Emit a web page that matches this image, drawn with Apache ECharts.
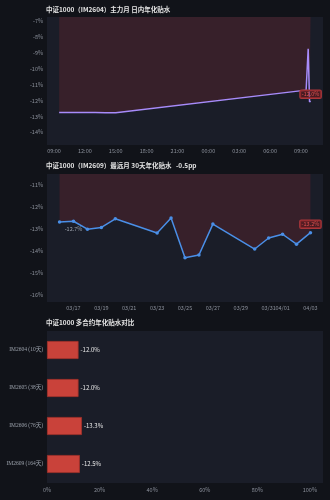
<!DOCTYPE html>
<html><head><meta charset="utf-8">
<script src="https://cdn.jsdelivr.net/npm/echarts@6/dist/echarts.min.js"></script>
<style>html,body{margin:0;padding:0;background:#111319;}#c{width:330px;height:500px;}</style>
</head><body><div id="c"></div>
<script>
// ---- data ----
const title1 = '中证1000（IM2604）主力月 日内年化贴水';
const title2 = '中证1000（IM2609）最远月 30天年化贴水   -0.5pp';
const title3 = '中证1000 多合约年化贴水对比';

const intradayTimes = ['04/02 09:30','04/02 10:30','04/02 11:30','04/02 13:00','04/02 14:00','04/02 15:00','04/03 09:30','04/03 09:36','04/03 09:42','04/03 09:50','04/03 09:56'];
const intradayBasis = [-12.75,-12.75,-12.75,-12.75,-12.76,-12.76,-11.34,-11.31,-8.73,-12.08,-12.02];

const dailyDates = ['03/16','03/17','03/18','03/19','03/20','03/23','03/24','03/25','03/26','03/27','03/30','03/31','04/01','04/02','04/03'];
const dailyBasis = [-12.68,-12.64,-13.0,-12.92,-12.53,-13.17,-12.49,-14.29,-14.17,-12.77,-13.9,-13.4,-13.23,-13.68,-13.16];
const dailyTickLabels = ['03/17','03/19','03/21','03/23','03/25','03/27','03/29','03/31','04/01','04/03'];

const contracts = ['IM2604 (10天)','IM2605 (38天)','IM2606 (76天)','IM2609 (164天)'];
const contractBasis = [-12.0,-12.0,-13.3,-12.5];
const pctTicks = [0,20,40,60,80,100];

// ---- helpers ----
function toHours(s){ // hours since 04/02 00:00
  const d = parseInt(s.slice(3,5),10) + (s.slice(0,2)==='04'?31:0);
  const h = parseInt(s.slice(6,8),10), m = parseInt(s.slice(9,11),10);
  return (d-33)*24 + h + m/60;
}
function toDay(s){ // days since 03/01
  const mo = parseInt(s.slice(0,2),10), d = parseInt(s.slice(3,5),10);
  return (mo===4?31:0) + d - 1;
}
function dayLabel(v){
  let n = Math.round(v)+1, mo = 3;
  if(n>31){n-=31;mo=4;}
  return (mo<10?'0':'')+mo+'/'+(n<10?'0':'')+n;
}
function hourLabel(v){
  let h = Math.round(v*60)/60; h = ((h%24)+24)%24;
  const hh = Math.floor(h), mm = Math.round((h-hh)*60);
  return (hh<10?'0':'')+hh+':'+(mm<10?'0':'')+mm;
}

const FONT = '"Noto Sans CJK SC","Noto Sans",sans-serif';
const axisTxt = {color:'#8b909b', fontSize:5.5, fontFamily:FONT};
const boxLabel = {show:true, position:'top', distance:3, color:'#e0514f', fontSize:5.5, fontFamily:FONT,
  backgroundColor:'rgba(110,25,30,0.55)', borderColor:'#a8363a', borderWidth:1, borderRadius:1, padding:[1,1.5]};

const s1 = intradayTimes.map((t,i)=>{
  const it = {value:[toHours(t), intradayBasis[i]]};
  if(i===intradayTimes.length-1) it.label = Object.assign({}, boxLabel, {formatter: p=>p.value[1].toFixed(1)+'%'});
  return it;
});
const s2 = dailyDates.map((t,i)=>{
  const it = {value:[toDay(t), dailyBasis[i]]};
  if(i===dailyDates.length-1) it.label = Object.assign({}, boxLabel, {formatter: p=>p.value[1].toFixed(1)+'%'});
  if(i===0) it.label = {show:true, position:'bottom', distance:3, offset:[14,-1], color:'#9aa0aa', fontSize:5.5, fontFamily:FONT, formatter: p=>p.value[1].toFixed(1)+'%'};
  return it;
});

const titleStyle = {color:'#e4e4e4', fontSize:6.5, fontWeight:'bold', fontFamily:FONT};
const gridBase = {left:47, right:7, show:true, backgroundColor:'#1a1d28', borderWidth:0};
const hidden = {axisLine:{show:false}, axisTick:{show:false}, splitLine:{show:false}};

const chart = echarts.init(document.getElementById('c'));
chart.setOption({
  animation:false,
  backgroundColor:'#111319',
  title:[
    {text:title1, left:46, top:6.5, padding:0, textStyle:titleStyle},
    {text:title2, left:46, top:162.5, padding:0, textStyle:titleStyle},
    {text:title3, left:46, top:319.5, padding:0, textStyle:titleStyle}
  ],
  grid:[
    Object.assign({top:17, height:128}, gridBase),
    Object.assign({top:174, height:128}, gridBase),
    Object.assign({top:331, height:152}, gridBase)
  ],
  xAxis:[
    Object.assign({type:'value', gridIndex:0, min:8.32, max:35.14, splitNumber:9,
      axisLabel:Object.assign({margin:3, showMinLabel:false, showMaxLabel:false, formatter:hourLabel}, axisTxt)}, hidden),
    Object.assign({type:'value', gridIndex:1, min:14.1, max:33.9,
      axisLabel:Object.assign({margin:3, customValues: dailyTickLabels.map(toDay), formatter:dayLabel}, axisTxt)}, hidden),
    Object.assign({type:'value', gridIndex:2, min:0, max:105,
      axisLabel:Object.assign({margin:4, customValues: pctTicks, formatter:v=>v+'%'}, axisTxt)}, hidden)
  ],
  yAxis:[
    Object.assign({type:'value', gridIndex:0, min:-14.8, max:-6.73, splitNumber:8,
      axisLabel:Object.assign({margin:4, showMinLabel:false, showMaxLabel:false, formatter:v=>v+'%'}, axisTxt)}, hidden),
    Object.assign({type:'value', gridIndex:1, min:-16.3, max:-10.5, splitNumber:6,
      axisLabel:Object.assign({margin:4, showMinLabel:false, showMaxLabel:false, formatter:v=>v+'%'}, axisTxt)}, hidden),
    Object.assign({type:'category', gridIndex:2, data:contracts, inverse:true,
      axisLabel:Object.assign({}, axisTxt, {margin:4, fontSize:5.5, color:'#9aa0aa', fontFamily:'"Liberation Serif","Noto Sans CJK SC",serif'})}, hidden)
  ],
  series:[
    {type:'line', xAxisIndex:0, yAxisIndex:0, data:s1, showSymbol:true, symbolSize:0,
      lineStyle:{color:'#a78bfa', width:1.5}, itemStyle:{color:'#a78bfa'},
      areaStyle:{origin:'end', color:'#37202a', opacity:1}},
    {type:'line', xAxisIndex:1, yAxisIndex:1, data:s2, symbol:'circle', symbolSize:3.5,
      lineStyle:{color:'#4a8fe7', width:1.5}, itemStyle:{color:'#4a8fe7'},
      areaStyle:{origin:'end', color:'#37202a', opacity:1}},
    {type:'bar', xAxisIndex:2, yAxisIndex:2, data:contractBasis.map(v=>Math.abs(v)), barWidth:18,
      itemStyle:{color:'#c9423a', borderColor:'#a3322b', borderWidth:0.8},
      label:{show:true, position:'right', distance:2, color:'#e8e8e8', fontSize:6, fontFamily:FONT,
        formatter:p=>contractBasis[p.dataIndex].toFixed(1)+'%'}}
  ]
});
</script></body></html>
